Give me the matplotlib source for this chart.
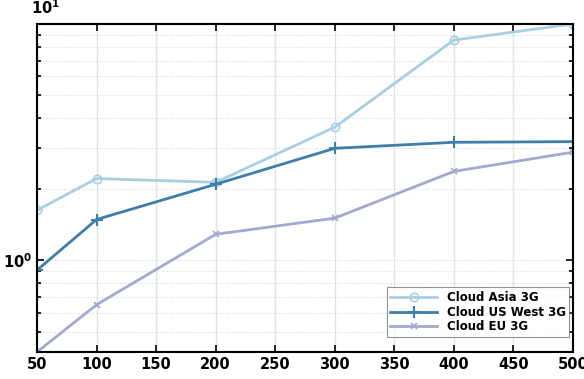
import numpy as np
import matplotlib.pyplot as plt
from matplotlib.ticker import FixedLocator, NullFormatter

x = [50, 100, 200, 300, 400, 500]
asia = [1.63, 2.22, 2.14, 3.66, 8.55, 10.0]
us_west = [0.91, 1.49, 2.10, 2.98, 3.16, 3.18]
eu = [0.41, 0.65, 1.29, 1.51, 2.38, 2.87]
xticks = [50, 100, 150, 200, 250, 300, 350, 400, 450, 500]

fig = plt.figure(figsize=(5.84, 3.79), dpi=100)
ax = fig.add_axes([0.0634, 0.0712, 0.9176, 0.8655])

ax.plot(x, asia, color="#a9d0e2", lw=2, marker="o", ms=6, mfc="none", mew=1.2, label="Cloud Asia 3G")
ax.plot(x, us_west, color="#3d7eab", lw=2, marker="+", ms=8, mew=1.5, label="Cloud US West 3G")
ax.plot(x, eu, color="#a3a9cf", lw=2, marker="x", ms=5, mew=1.2, label="Cloud EU 3G")

ax.set_yscale("log")
ax.set_xlim(50, 500)
ax.set_ylim(0.41, 10)
ax.set_xticks(xticks)
ax.set_xticklabels([str(t) for t in xticks], fontweight="bold", fontsize=10.5)
ax.yaxis.set_major_locator(FixedLocator([1, 10]))
ax.set_yticklabels([r"$\mathbf{10^{0}}$", ""], fontsize=10.5)
ax.yaxis.set_minor_locator(FixedLocator([0.5, 0.6, 0.7, 0.8, 0.9, 2, 3, 4, 5, 6, 7, 8, 9]))
ax.yaxis.set_minor_formatter(NullFormatter())
ax.text(-0.012, 1.02, r"$\mathbf{10^{1}}$", transform=ax.transAxes, fontsize=10.5, ha="left", va="bottom")

ax.tick_params(which="both", direction="in", top=True, right=True, width=1.2)
ax.tick_params(which="major", length=5)
ax.tick_params(which="minor", length=3)
ax.grid(True, axis="x", color="#e4e4e4", lw=1)
ax.grid(True, axis="y", which="both", color="#d8d8d8", lw=0.8, linestyle=":")
for s in ax.spines.values():
    s.set_linewidth(1.5)

leg = ax.legend(loc="lower right", fancybox=False, edgecolor="#777777",
                prop={"weight": "bold", "size": 8.5}, handlelength=4, borderpad=0.3,
                labelspacing=0.15, borderaxespad=0.3, bbox_to_anchor=(1.0, 0.035))
leg.get_frame().set_linewidth(0.8)

fig.savefig("out.png", dpi=100)
